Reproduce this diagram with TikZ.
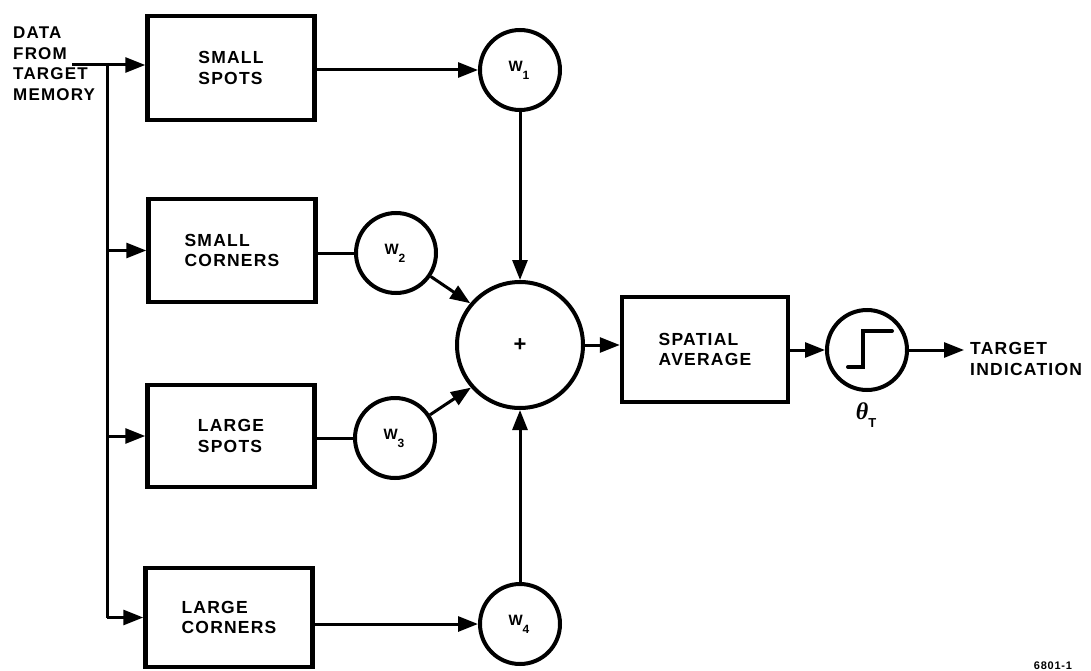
\documentclass[tikz,border=0pt]{standalone}
\usepackage{fontspec}
\setmainfont{Liberation Sans}
\newfontfamily\lbl{Liberation Sans Bold}[LetterSpace=7]
\newfontfamily\thfont{Liberation Serif Bold Italic}
\usetikzlibrary{arrows.meta,calc}
\tikzset{
  blk/.style={draw, line width=4.5pt, minimum width=167pt, align=left, inner sep=0pt,
    font=\lbl\fontsize{17.5}{20.5}\selectfont},
  wt/.style={draw, circle, line width=4pt, minimum size=80pt, inner sep=0pt,
    font=\lbl\fontsize{15}{15}\selectfont},
  conn/.style={line width=3pt},
  arr/.style={line width=3pt, -{Triangle[length=20pt,width=15pt]}},
  txt/.style={align=left, inner sep=0pt, font=\lbl\fontsize{17.5}{20.5}\selectfont}
}
\newcommand{\wsub}[1]{\hspace*{-2pt}W\raisebox{-8pt}{\fontsize{12}{12}\selectfont #1}}
\newcommand{\thetaT}{{\thfont\fontsize{24}{24}\selectfont θ}\raisebox{-8pt}{\lbl\fontsize{13}{13}\selectfont T}}
\begin{document}
\begin{tikzpicture}[x=1pt,y=-1pt]
\path[use as bounding box, fill=white] (0,0) rectangle (1091,671);

% input label
\node[txt, anchor=north west, font=\lbl\fontsize{17}{20.5}\selectfont] (data) at (13,27) {DATA\\FROM\\TARGET\\MEMORY};
\coordinate (din) at (72,65);
\coordinate (bus0) at (107,65);

% feature boxes
\node[blk, minimum height=104pt] (ss) at (231,68) {SMALL\\SPOTS};
\node[blk, minimum height=103pt] (sc) at (232,250.5) {SMALL\\CORNERS};
\node[blk, minimum height=102pt] (ls) at (231,436) {LARGE\\SPOTS};
\node[blk, minimum height=99pt] (lc) at (229,617.5) {LARGE\\CORNERS};

% weights
\node[wt] (w1) at (520,70) {\wsub{1}};
\node[wt] (w2) at (396,253) {\wsub{2}};
\node[wt] (w3) at (395,438) {\wsub{3}};
\node[wt] (w4) at (520,624) {\wsub{4}};

% summation
\node[draw, circle, line width=4pt, minimum size=126pt, inner sep=0pt,
  font=\lbl\fontsize{22}{22}\selectfont] (sum) at (520,345) {+};

% spatial average
\node[blk, minimum width=166pt, minimum height=105pt] (sa) at (705,349.5) {SPATIAL\\AVERAGE};

% threshold
\node[wt] (th) at (867,350) {};
\draw[line width=4pt, line cap=round]
  ($(th)+(-19,17)$) -- ++(15,0) -- ++(0,-36) -- ++(29,0);
\node[inner sep=0pt] (thl) at (866,415) {\thetaT};

% output
\node[txt, anchor=west] (out) at (970,359) {TARGET\\INDICATION};
\coordinate (outend) at (964,350);

% connectors
\draw[arr] (din) -- (ss.west |- din);
\draw[conn] (bus0) -- (bus0 |- lc.west);
\draw[arr] (bus0 |- sc.west) -- (sc.west);
\draw[arr] (bus0 |- ls.west) -- (ls.west);
\draw[arr] (bus0 |- lc.west) -- (lc.west);

\draw[arr] (ss.east |- w1) -- (w1.west);
\draw[conn] (sc.east |- w2) -- (w2.west);
\draw[conn] (ls.east |- w3) -- (w3.west);
\draw[arr] (lc.east |- w4) -- (w4.west);

\draw[arr] (w1.south) -- (sum.north);
\draw[arr] (w2) -- (sum.140);
\draw[arr] (w3) -- (sum.221);
\draw[arr] (w4.north) -- (sum.south);

\draw[arr] (sum.east) -- (sa.west |- sum.east);
\draw[arr] (sa.east |- th.west) -- (th.west);
\draw[arr] (th.east) -- (outend);

% figure number at the bottom edge
\node[txt, anchor=south, font=\lbl\fontsize{11}{11}\selectfont] (fig) at (1053,670) {6801-1};
\end{tikzpicture}
\end{document}
